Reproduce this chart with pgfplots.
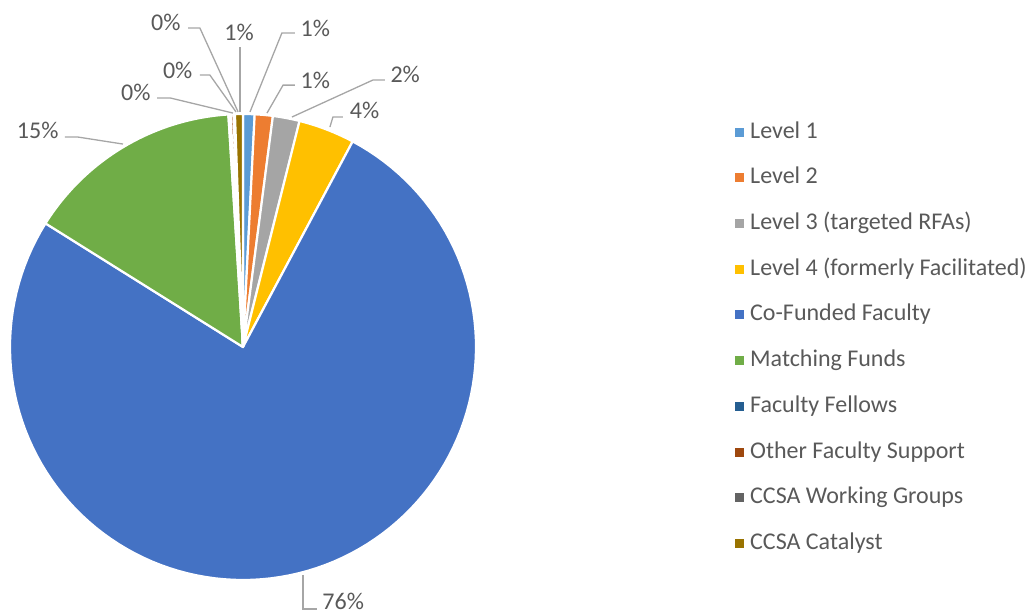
\documentclass[border=0pt]{standalone}
\usepackage{pgfplots}
\usepackage{pgfplotstable}
\usepackage{fontspec}
\setmainfont{Carlito}
\pgfplotsset{compat=1.18}
\definecolor{cS0}{HTML}{5B9BD5}
\definecolor{cS1}{HTML}{ED7D31}
\definecolor{cS2}{HTML}{A5A5A5}
\definecolor{cS3}{HTML}{FFC000}
\definecolor{cS4}{HTML}{4472C4}
\definecolor{cS5}{HTML}{70AD47}
\definecolor{cS6}{HTML}{255E91}
\definecolor{cS7}{HTML}{9E480E}
\definecolor{cS8}{HTML}{636363}
\definecolor{cS9}{HTML}{997300}
\definecolor{txt}{HTML}{595959}
\definecolor{lead}{HTML}{A6A6A6}

% share of each slice, in percent, clockwise from 12 o'clock
\pgfplotstableread{
id value
0 0.8
1 1.25
2 1.85
3 3.9
4 76.1
5 15.1
6 0.15
7 0.2
8 0.1
9 0.55
}\piedata

\begin{document}
\begin{tikzpicture}
\useasboundingbox (-243pt,-267pt) rectangle (790pt,347pt);
\gdef\cum{0}
\foreach \i in {0,...,9}{
  \pgfplotstablegetelem{\i}{value}\of\piedata
  \pgfmathsetmacro\s{90-3.6*\cum}
  \pgfmathsetmacro\newcum{\cum+\pgfplotsretval}
  \pgfmathsetmacro\e{90-3.6*\newcum}
  \expandafter\xdef\csname sA\i\endcsname{\s}
  \expandafter\xdef\csname eA\i\endcsname{\e}
  \xdef\cum{\newcum}
}
\begin{axis}[
  at={(0,0)}, anchor=center,
  width=466pt, height=466pt, scale only axis,
  xmin=-1, xmax=1, ymin=-1, ymax=1,
  hide axis, clip=false,
  font=\fontsize{24}{28}\selectfont, text=txt,
  legend image code/.code={\fill[#1, draw=none] (0pt,-4.5pt) rectangle (9pt,4.5pt);},
  legend cell align=left,
  legend style={draw=none, fill=none, inner sep=0pt, text=txt,
    at={(1.5558,0.9893)}, anchor=north west,
    font=\fontsize{24}{28}\selectfont,
    nodes={inner sep=2pt, text height=17pt, text depth=5pt},
    row sep=19.7pt, column sep=4pt},
]
\pgfplotsinvokeforeach{0,...,9}{
  \edef\cmd{\noexpand\addplot[forget plot, fill=cS#1, draw=white, line width=2.2pt, line join=round,
     domain=\csname eA#1\endcsname:\csname sA#1\endcsname, samples=120]
     ({cos(x)},{sin(x)}) -- (axis cs:0,0) -- cycle;}
  \cmd
}
% leader lines
\addplot[forget plot, lead, line width=1.3pt, no marks] coordinates {(0.030,1.009) (0.167,1.348) (0.223,1.348)};
\addplot[forget plot, lead, line width=1.3pt, no marks] coordinates {(0.103,1.004) (0.172,1.124) (0.223,1.124)};
\addplot[forget plot, lead, line width=1.3pt, no marks] coordinates {(0.210,0.987) (0.558,1.146) (0.609,1.146)};
\addplot[forget plot, lead, line width=1.3pt, no marks] coordinates {(0.373,0.944) (0.386,0.987) (0.429,0.987)};
\addplot[forget plot, lead, line width=1.3pt, no marks] coordinates {(0.258,-0.979) (0.258,-1.125) (0.318,-1.125)};
\addplot[forget plot, lead, line width=1.3pt, no marks] coordinates {(-0.515,0.871) (-0.708,0.901) (-0.764,0.901)};
\addplot[forget plot, lead, line width=1.3pt, no marks] coordinates {(-0.043,1.004) (-0.313,1.069) (-0.369,1.069)};
\addplot[forget plot, lead, line width=1.3pt, no marks] coordinates {(-0.030,1.009) (-0.142,1.167) (-0.185,1.167)};
\addplot[forget plot, lead, line width=1.3pt, no marks] coordinates {(-0.021,1.009) (-0.185,1.369) (-0.236,1.369)};
\addplot[forget plot, lead, line width=1.3pt, no marks] coordinates {(-0.013,1.009) (-0.013,1.288)};
% labels
\node[anchor=west, text=txt] at (axis cs:0.232,1.369) {1\%};
\node[anchor=west, text=txt] at (axis cs:0.232,1.146) {1\%};
\node[anchor=west, text=txt] at (axis cs:0.618,1.172) {2\%};
\node[anchor=west, text=txt] at (axis cs:0.444,1.017) {4\%};
\node[anchor=west, text=txt] at (axis cs:0.326,-1.094) {76\%};
\node[anchor=east, text=txt] at (axis cs:-0.777,0.931) {15\%};
\node[anchor=east, text=txt] at (axis cs:-0.382,1.094) {0\%};
\node[anchor=east, text=txt] at (axis cs:-0.202,1.189) {0\%};
\node[anchor=east, text=txt] at (axis cs:-0.253,1.391) {0\%};
\node[text=txt] at (axis cs:-0.017,1.352) {1\%};
% legend
\addlegendimage{fill=cS0}\addlegendentry{Level 1}
\addlegendimage{fill=cS1}\addlegendentry{Level 2}
\addlegendimage{fill=cS2}\addlegendentry{Level 3 (targeted RFAs)}
\addlegendimage{fill=cS3}\addlegendentry{Level 4 (formerly Facilitated)}
\addlegendimage{fill=cS4}\addlegendentry{Co-Funded Faculty}
\addlegendimage{fill=cS5}\addlegendentry{Matching Funds}
\addlegendimage{fill=cS6}\addlegendentry{Faculty Fellows}
\addlegendimage{fill=cS7}\addlegendentry{Other Faculty Support}
\addlegendimage{fill=cS8}\addlegendentry{CCSA Working Groups}
\addlegendimage{fill=cS9}\addlegendentry{CCSA Catalyst}
\end{axis}
\end{tikzpicture}
\end{document}
